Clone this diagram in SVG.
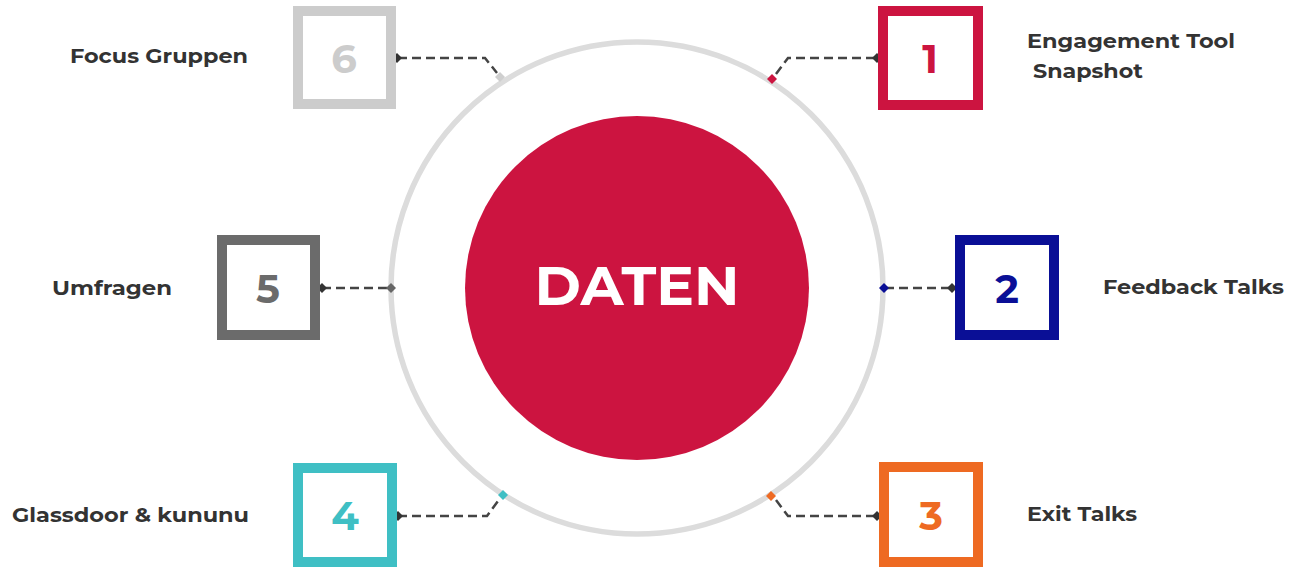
<svg xmlns="http://www.w3.org/2000/svg" width="1289" height="568" viewBox="0 0 1289 568">
<style>
.lbl{font-family:"Montserrat","Open Sans","Liberation Sans",sans-serif;font-weight:700;font-size:20px;fill:#333333}
.num{font-family:"Montserrat","Open Sans","Liberation Sans",sans-serif;font-weight:700;font-size:40px;text-anchor:middle}
.box{fill:#ffffff;stroke-width:10}
.dash{fill:none;stroke:#444444;stroke-width:2.5;stroke-dasharray:9 5}
.dot{fill:#333333}
</style>
<defs>
<path id="dm" d="M0,-5 L5,0 L0,5 L-5,0 Z"/>
</defs>
<rect width="1289" height="568" fill="#ffffff"/>
<g id="center">
<circle cx="637" cy="288" r="246" fill="none" stroke="#dcdcdc" stroke-width="5.5"/>
<circle cx="637" cy="288" r="172" fill="#cc1440"/>
<text x="637" y="305" text-anchor="middle" font-family="Montserrat,'Open Sans','Liberation Sans',sans-serif" font-weight="700" font-size="54" fill="#ffffff" textLength="205" lengthAdjust="spacingAndGlyphs">DATEN</text>
</g>
<g id="connectors">
<path class="dash" d="M398,58 H485 L497,73"/>
<path class="dash" d="M776,74 L788,58 H876"/>
<path class="dash" d="M322,288 H390"/>
<path class="dash" d="M885,288 H952"/>
<path class="dash" d="M398,516 H487 L498,501"/>
<path class="dash" d="M776,500 L788,516 H877"/>
<use href="#dm" x="397" y="58" class="dot"/>
<use href="#dm" x="877" y="58" class="dot"/>
<use href="#dm" x="322" y="288" class="dot"/>
<use href="#dm" x="952" y="288" class="dot"/>
<use href="#dm" x="398" y="516" class="dot"/>
<use href="#dm" x="877" y="516" class="dot"/>
<use href="#dm" x="500" y="77" fill="#cfcfcf"/>
<use href="#dm" x="772" y="79" fill="#cc1440"/>
<use href="#dm" x="391" y="288" fill="#666666"/>
<use href="#dm" x="884" y="288" fill="#0a0f96"/>
<use href="#dm" x="503" y="495" fill="#3fbfc4"/>
<use href="#dm" x="771" y="496" fill="#ee6a22"/>
</g>
<g id="node1">
<rect class="box" x="883" y="11" width="95" height="94" stroke="#cc1440"/>
<text class="num" x="930" y="73" fill="#cc1440">1</text>
<text class="lbl" x="1027" y="48" textLength="208" lengthAdjust="spacingAndGlyphs">Engagement Tool</text>
<text class="lbl" x="1033" y="78" textLength="110" lengthAdjust="spacingAndGlyphs">Snapshot</text>
</g>
<g id="node2">
<rect class="box" x="960" y="240" width="94" height="95" stroke="#0a0f96"/>
<text class="num" x="1007" y="303" fill="#0a0f96">2</text>
<text class="lbl" x="1103" y="294" textLength="181" lengthAdjust="spacingAndGlyphs">Feedback Talks</text>
</g>
<g id="node3">
<rect class="box" x="884" y="467" width="94" height="95" stroke="#ee6a22"/>
<text class="num" x="931" y="530" fill="#ee6a22">3</text>
<text class="lbl" x="1027" y="521" textLength="110" lengthAdjust="spacingAndGlyphs">Exit Talks</text>
</g>
<g id="node4">
<rect class="box" x="298" y="468" width="94" height="94" stroke="#3fbfc4"/>
<text class="num" x="345" y="530" fill="#3fbfc4">4</text>
<text class="lbl" x="12" y="522" textLength="237" lengthAdjust="spacingAndGlyphs">Glassdoor &amp; kununu</text>
</g>
<g id="node5">
<rect class="box" x="222" y="240" width="93" height="95" stroke="#6b6b6b"/>
<text class="num" x="268" y="303" fill="#6b6b6b">5</text>
<text class="lbl" x="52" y="295" textLength="120" lengthAdjust="spacingAndGlyphs">Umfragen</text>
</g>
<g id="node6">
<rect class="box" x="298" y="11" width="93" height="93" stroke="#cccccc"/>
<text class="num" x="344" y="73" fill="#cccccc">6</text>
<text class="lbl" x="70" y="63" textLength="178" lengthAdjust="spacingAndGlyphs">Focus Gruppen</text>
</g>
</svg>
